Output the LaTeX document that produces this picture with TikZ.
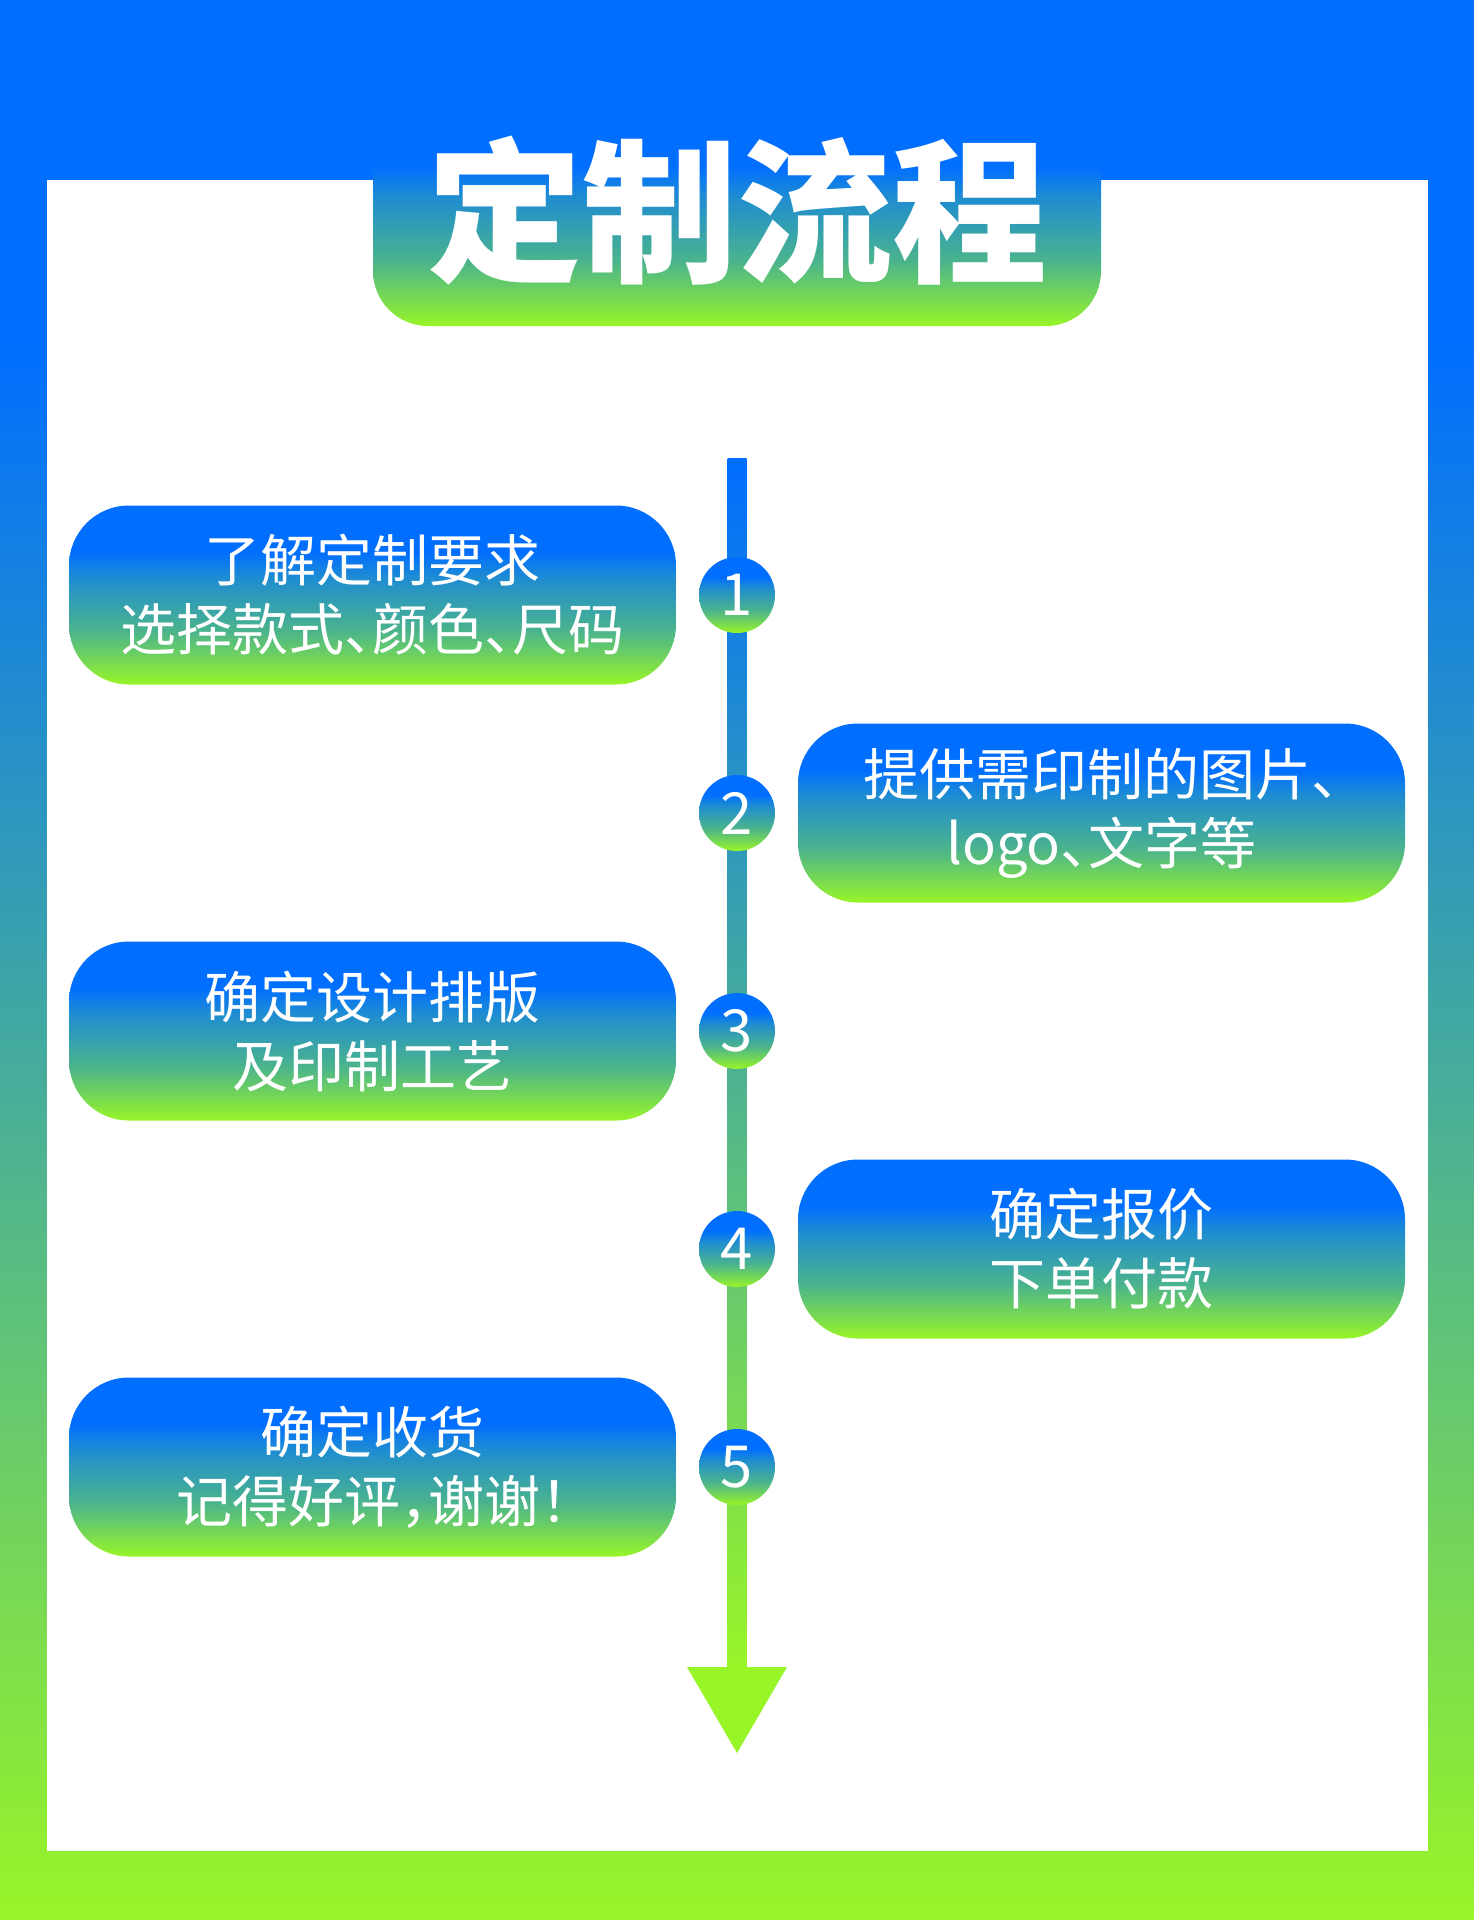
\documentclass[tikz,border=0pt]{standalone}
\usepackage{fontspec}
\newfontfamily\cjk{Noto Sans CJK SC}
\newcommand\halfpunct[1]{{\addfontfeature{RawFeature=+halt}#1}}
\usetikzlibrary{positioning,calc}
\definecolor{flowblue}{RGB}{0,110,255}
\definecolor{flowmid}{RGB}{30,140,210}
\definecolor{flowteal}{RGB}{75,180,140}
\definecolor{flowgreen}{RGB}{152,245,40}
% vertical shadings: 25bp = bottom of the path, 75bp = top
\pgfdeclareverticalshading{stepshade}{100bp}{color(0bp)=(flowgreen); color(25bp)=(flowgreen);
  color(40bp)=(flowteal); color(55bp)=(flowmid); color(62bp)=(flowblue); color(100bp)=(flowblue)}
\pgfdeclareverticalshading{pageshade}{100bp}{color(0bp)=(flowgreen); color(25bp)=(flowgreen);
  color(66bp)=(flowblue); color(100bp)=(flowblue)}
\tikzset{
  stepbox/.style={shade, shading=stepshade, rounded corners=60pt,
    minimum width=607pt, minimum height=179pt,
    align=center, text=white, font=\cjk\fontsize{56}{69}\selectfont},
  numdot/.style={circle, shade, shading=stepshade, minimum size=76pt,
    inner sep=0pt, text=white, font=\cjk\fontsize{58}{58}\selectfont},
  titlebox/.style={shade, shading=stepshade, rounded corners=55pt,
    minimum width=728pt, minimum height=216pt},
  titletext/.style={text=white, font=\cjk\bfseries\fontsize{155}{155}\selectfont},
}

\begin{document}
\begin{tikzpicture}[x=1pt, y=-1pt]
  \useasboundingbox (0,0) rectangle (1474,1920);
  % page frame
  \shade[shading=pageshade] (0,0) rectangle (1474,1920);
  \fill[white] (46.5,180) rectangle (1427.5,1851);

  % heading
  \node[titlebox] (title) at (737,218) {};
  \node[titletext] (titletext) at (737,211) {定制流程};

  % spine with arrow head
  \coordinate (spinetop) at (737,458);
  \coordinate (spinebot) at (737,1667);
  \shade[top color=flowblue, middle color=flowmid!60!flowteal, bottom color=flowgreen]
    ($(spinetop)+(-9.5,0)$) rectangle ($(spinebot)+(9.5,1)$);
  \coordinate (arrowtip) at (737,1753);
  \fill[flowgreen] ($(spinebot)+(-50,0)$) -- ($(spinebot)+(50,0)$) -- (arrowtip) -- cycle;

  % steps
  \node[stepbox] (step1) at (372.5,595) {了解定制要求\\选择款式\halfpunct{、}颜色\halfpunct{、}尺码};
  \node[stepbox] (step2) at (1101.5,813) {提供需印制的图片\halfpunct{、}\\logo\halfpunct{、}文字等};
  \node[stepbox] (step3) at (372.5,1031) {确定设计排版\\及印制工艺};
  \node[stepbox] (step4) at (1101.5,1249) {确定报价\\下单付款};
  \node[stepbox] (step5) at (372.5,1467) {确定收货\\记得好评\halfpunct{，}谢谢\halfpunct{！}};

  % numbers on the spine
  \foreach \i in {1,...,5}
    \node[numdot] (num\i) at (spinetop |- step\i.center) {\i};
\end{tikzpicture}
\end{document}
